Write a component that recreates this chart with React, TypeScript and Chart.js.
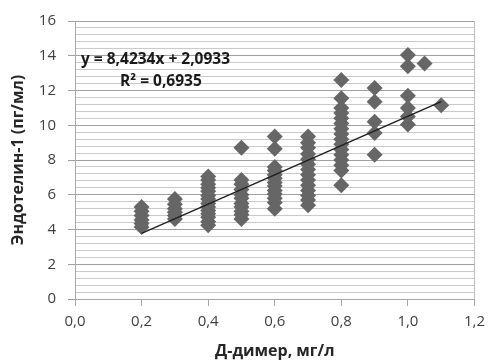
import { useEffect, useRef } from 'react';
import { Chart, registerables } from 'chart.js';

Chart.register(...registerables);

// D-dimer (mg/l) values for each observation
const dDimer: number[] = [
  0.2, 0.2, 0.2, 0.2, 0.2, 0.2,
  0.3, 0.3, 0.3, 0.3, 0.3, 0.3,
  0.4, 0.4, 0.4, 0.4, 0.4, 0.4, 0.4, 0.4, 0.4, 0.4, 0.4, 0.4, 0.4, 0.4,
  0.5, 0.5, 0.5, 0.5, 0.5, 0.5, 0.5, 0.5, 0.5, 0.5, 0.5,
  0.6, 0.6, 0.6, 0.6, 0.6, 0.6, 0.6, 0.6, 0.6, 0.6, 0.6, 0.6, 0.6,
  0.7, 0.7, 0.7, 0.7, 0.7, 0.7, 0.7, 0.7, 0.7, 0.7, 0.7, 0.7, 0.7, 0.7,
  0.8, 0.8, 0.8, 0.8, 0.8, 0.8, 0.8, 0.8, 0.8, 0.8, 0.8, 0.8, 0.8, 0.8, 0.8, 0.8,
  0.9, 0.9, 0.9, 0.9, 0.9,
  1.0, 1.0, 1.0, 1.0, 1.0, 1.0,
  1.05,
  1.1,
];

// Endothelin-1 (pg/ml) values, same order
const endothelin: number[] = [
  4.15, 4.35, 4.55, 4.8, 5.05, 5.3,
  4.6, 4.8, 5.0, 5.2, 5.45, 5.75,
  4.25, 4.45, 4.7, 4.9, 5.1, 5.3, 5.5, 5.75, 5.95, 6.2, 6.4, 6.6, 6.85, 7.05,
  4.6, 4.85, 5.05, 5.3, 5.5, 5.8, 6.0, 6.3, 6.6, 6.85, 8.7,
  5.2, 5.55, 5.8, 6.05, 6.25, 6.5, 6.7, 6.95, 7.15, 7.4, 7.6, 8.65, 9.35,
  5.4, 5.7, 5.95, 6.25, 6.55, 6.85, 7.15, 7.45, 7.75, 8.05, 8.35, 8.7, 9.0, 9.35,
  6.55, 7.4, 7.7, 8.0, 8.3, 8.6, 8.9, 9.2, 9.5, 9.8, 10.1, 10.4, 10.7, 11.0, 11.55, 12.6,
  8.3, 9.55, 10.2, 11.35, 12.15,
  10.05, 10.5, 11.0, 11.7, 13.4, 14.05,
  13.55,
  11.15,
];

// Linear trend reported on the chart
const trendSlope = 8.4234;
const trendIntercept = 2.0933;
const trendRange: number[] = [0.2, 1.1];
const equationLabel = 'y = 8,4234x + 2,0933';
const r2Label = 'R² = 0,6935';

const xTitle = 'Д-димер, мг/л';
const yTitle = 'Эндотелин-1 (пг/мл)';

const xMin = 0, xMax = 1.2, xStep = 0.2;
const yMin = 0, yMax = 16, yMajorStep = 2, yMinorStep = 0.4;

const FONT = "'Open Sans', 'DejaVu Sans', sans-serif";

const annotationPlugin = {
  id: 'trendAnnotation',
  afterDatasetsDraw(chart: any) {
    const { ctx, chartArea } = chart;
    ctx.save();
    ctx.fillStyle = '#1a1a1a';
    ctx.font = `bold 15.5px ${FONT}`;
    ctx.textBaseline = 'middle';
    ctx.textAlign = 'left';
    ctx.fillText(equationLabel, chartArea.left + 6, 60);
    ctx.fillText(r2Label, chartArea.left + 45, 82);
    ctx.restore();
  },
};

export default function App() {
  const ref = useRef<HTMLCanvasElement | null>(null);

  useEffect(() => {
    if (!ref.current) return;
    const points = dDimer.map((x, i) => ({ x, y: endothelin[i] }));
    const trend = trendRange.map((x) => ({ x, y: trendSlope * x + trendIntercept }));
    const isMajor = (v: number) => Math.abs(v / yMajorStep - Math.round(v / yMajorStep)) < 1e-6;

    const chart = new Chart(ref.current, {
      type: 'scatter',
      data: {
        datasets: [
          {
            type: 'line',
            data: trend,
            borderColor: '#1f1f1f',
            borderWidth: 1.4,
            pointRadius: 0,
            fill: false,
          } as any,
          {
            data: points,
            pointStyle: 'rectRot',
            pointRadius: 8,
            pointHoverRadius: 8,
            backgroundColor: '#666666',
            borderColor: '#666666',
            borderWidth: 0,
          },
        ],
      },
      plugins: [annotationPlugin],
      options: {
        animation: false,
        responsive: false,
        maintainAspectRatio: false,
        events: [],
        layout: { padding: { left: 0, right: 13, top: 21, bottom: 0 } },
        plugins: {
          legend: { display: false },
          tooltip: { enabled: false },
        },
        scales: {
          x: {
            type: 'linear',
            min: xMin,
            max: xMax,
            afterFit: (s: any) => { s.height = 65; },
            ticks: {
              stepSize: xStep,
              autoSkip: false,
              padding: 7,
              color: '#404040',
              font: { family: FONT, size: 15 },
              callback: (v: any) => Number(v).toFixed(1).replace('.', ','),
            },
            grid: {
              drawOnChartArea: true,
              color: (c: any) => (Math.abs(c.tick.value - xMax) < 1e-6 ? '#bfbfbf' : 'rgba(0,0,0,0)'),
              tickColor: '#a6a6a6',
              tickLength: 7,
            },
            border: { display: true, color: '#a6a6a6' },
            title: {
              display: true,
              text: xTitle,
              color: '#262626',
              font: { family: FONT, size: 16, weight: 'bold' },
              padding: { top: 0, bottom: 3 },
            },
          },
          y: {
            type: 'linear',
            min: yMin,
            max: yMax,
            afterFit: (s: any) => { s.width = 75; },
            ticks: {
              stepSize: yMinorStep,
              autoSkip: false,
              maxTicksLimit: 100,
              padding: 12,
              color: '#404040',
              font: { family: FONT, size: 15 },
              callback: (v: any) => (isMajor(Number(v)) ? String(Math.round(Number(v))) : ''),
            },
            grid: {
              color: (c: any) => (isMajor(c.tick.value) ? '#a0a0a0' : '#cacaca'),
              tickColor: (c: any) => (isMajor(c.tick.value) ? '#a0a0a0' : 'rgba(0,0,0,0)'),
              tickLength: 7,
            },
            border: { display: true, color: '#a6a6a6' },
            title: {
              display: true,
              text: yTitle,
              color: '#262626',
              font: { family: FONT, size: 16, weight: 'bold' },
              padding: { top: 9, bottom: 0 },
            },
          },
        },
      },
    });
    return () => chart.destroy();
  }, []);

  return (
    <div style={{ position: 'fixed', left: 0, top: 0, width: 492, height: 364, background: '#fff' }}>
      <canvas ref={ref} width={492} height={364} style={{ width: 492, height: 364, display: 'block' }} />
    </div>
  );
}
